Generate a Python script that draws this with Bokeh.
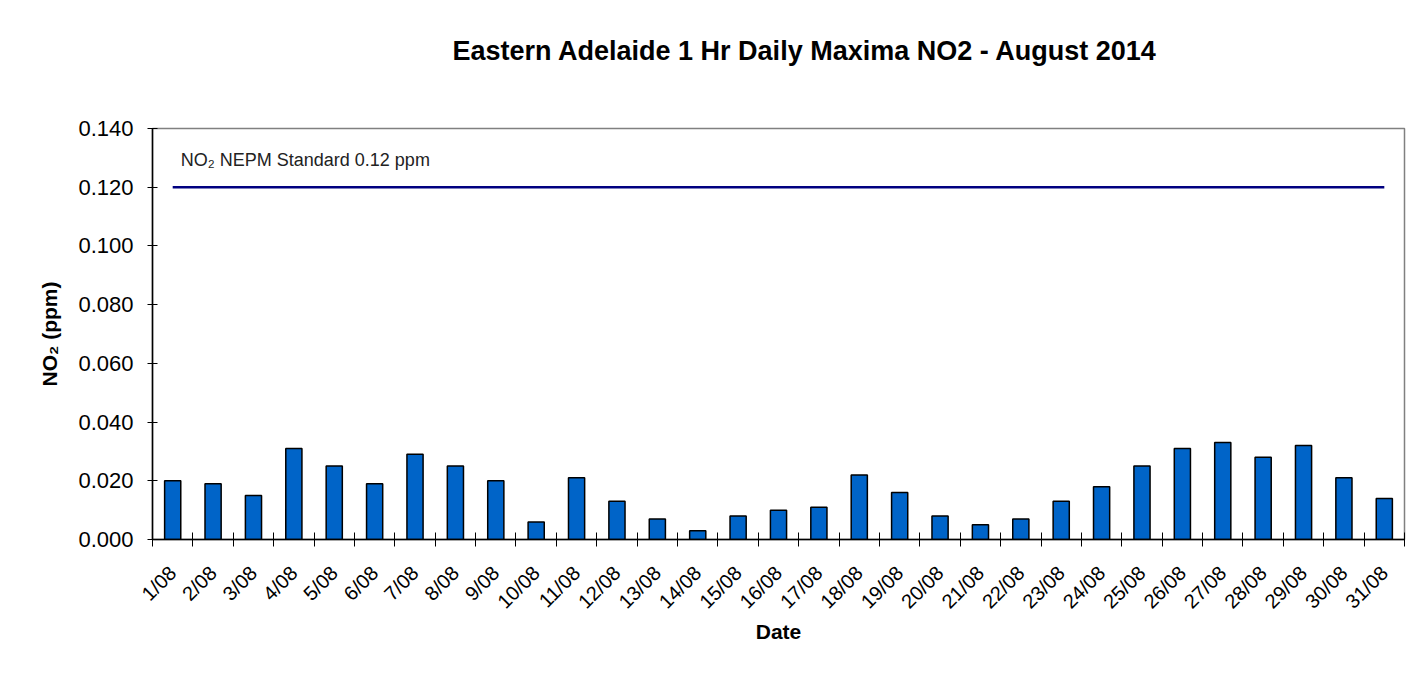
import math
from bokeh.plotting import figure
from bokeh.models import Range1d, FixedTicker, Label, ColumnDataSource, PrintfTickFormatter, Title
from bokeh.embed import file_html
from bokeh.resources import INLINE

dates = ["1/08", "2/08", "3/08", "4/08", "5/08", "6/08", "7/08", "8/08", "9/08", "10/08",
         "11/08", "12/08", "13/08", "14/08", "15/08", "16/08", "17/08", "18/08", "19/08", "20/08",
         "21/08", "22/08", "23/08", "24/08", "25/08", "26/08", "27/08", "28/08", "29/08", "30/08",
         "31/08"]
no2 = [0.020, 0.019, 0.015, 0.031, 0.025, 0.019, 0.029, 0.025, 0.020, 0.006,
       0.021, 0.013, 0.007, 0.003, 0.008, 0.010, 0.011, 0.022, 0.016, 0.008,
       0.005, 0.007, 0.013, 0.018, 0.025, 0.031, 0.033, 0.028, 0.032, 0.021,
       0.014]
standard = 0.12
y_ticks = [0.0, 0.02, 0.04, 0.06, 0.08, 0.10, 0.12, 0.14]
title_text = "Eastern Adelaide 1 Hr Daily Maxima NO2 - August 2014"
standard_label = "NO\u2082 NEPM Standard 0.12 ppm"

pos = list(range(1, len(dates) + 1))
src = ColumnDataSource(dict(x=pos, no2=no2, date=dates))

FONT = "Liberation Sans"

p = figure(width=1410, height=667, output_backend="svg", toolbar_location=None,
           x_range=Range1d(0.5, len(dates) + 0.5), y_range=Range1d(y_ticks[0], y_ticks[-1]),
           min_border_left=152, min_border_right=6, min_border_top=128, min_border_bottom=128)

# spacer between frame and title, then the title itself (added later = further out)
p.add_layout(Title(text=" ", text_font_size="1px", standoff=60), "above")
p.add_layout(Title(text=title_text, text_font=FONT, text_font_size="27px",
                   text_font_style="bold", text_color="black", align="left",
                   offset=300, standoff=0), "above")

p.xgrid.visible = False
p.ygrid.visible = False
p.outline_line_color = "#808080"
p.outline_line_width = 1.5
p.background_fill_color = "white"
p.border_fill_color = "white"

p.vbar(x="x", top="no2", width=0.4, source=src, fill_color="#0064C8",
       line_color="black", line_width=1.5)

p.line(x=[pos[0], pos[-1]], y=[standard, standard], line_color="#000080", line_width=2.5)

p.add_layout(Label(x=pos[0] + 0.2, y=standard + 0.0092, text=standard_label,
                   text_font=FONT, text_font_size="18px", text_color="#222222",
                   text_baseline="middle", text_align="left"))

xa = p.xaxis[0]
xa.ticker = FixedTicker(ticks=pos, minor_ticks=[x - 0.5 for x in pos] + [pos[-1] + 0.5])
xa.major_label_overrides = {x: d for x, d in zip(pos, dates)}
xa.major_tick_in = 0
xa.major_tick_out = 0
xa.minor_tick_in = 7
xa.minor_tick_out = 7
xa.minor_tick_line_color = "black"
xa.minor_tick_line_width = 1
xa.axis_line_color = "black"
xa.axis_line_width = 1.5
xa.major_label_orientation = math.pi / 4
xa.major_label_standoff = 23
xa.major_label_text_font = FONT
xa.major_label_text_font_size = "20px"
xa.major_label_text_color = "black"
xa.axis_label = "Date"
xa.axis_label_text_font = FONT
xa.axis_label_text_font_size = "21px"
xa.axis_label_text_font_style = "bold"
xa.axis_label_text_color = "black"
xa.axis_label_standoff = -3

ya = p.yaxis[0]
ya.ticker = FixedTicker(ticks=y_ticks, minor_ticks=[])
ya.formatter = PrintfTickFormatter(format="%.3f")
ya.major_tick_in = 5
ya.major_tick_out = 5
ya.major_tick_line_color = "black"
ya.minor_tick_line_color = None
ya.axis_line_color = "black"
ya.axis_line_width = 1.5
ya.major_label_standoff = 14
ya.major_label_text_font = FONT
ya.major_label_text_font_size = "22px"
ya.major_label_text_color = "black"
ya.axis_label = "NO\u2082 (ppm)"
ya.axis_label_text_font = FONT
ya.axis_label_text_font_size = "21px"
ya.axis_label_text_font_style = "bold"
ya.axis_label_text_color = "black"
ya.axis_label_standoff = 14

open("out.html", "w").write(file_html(p, INLINE))
